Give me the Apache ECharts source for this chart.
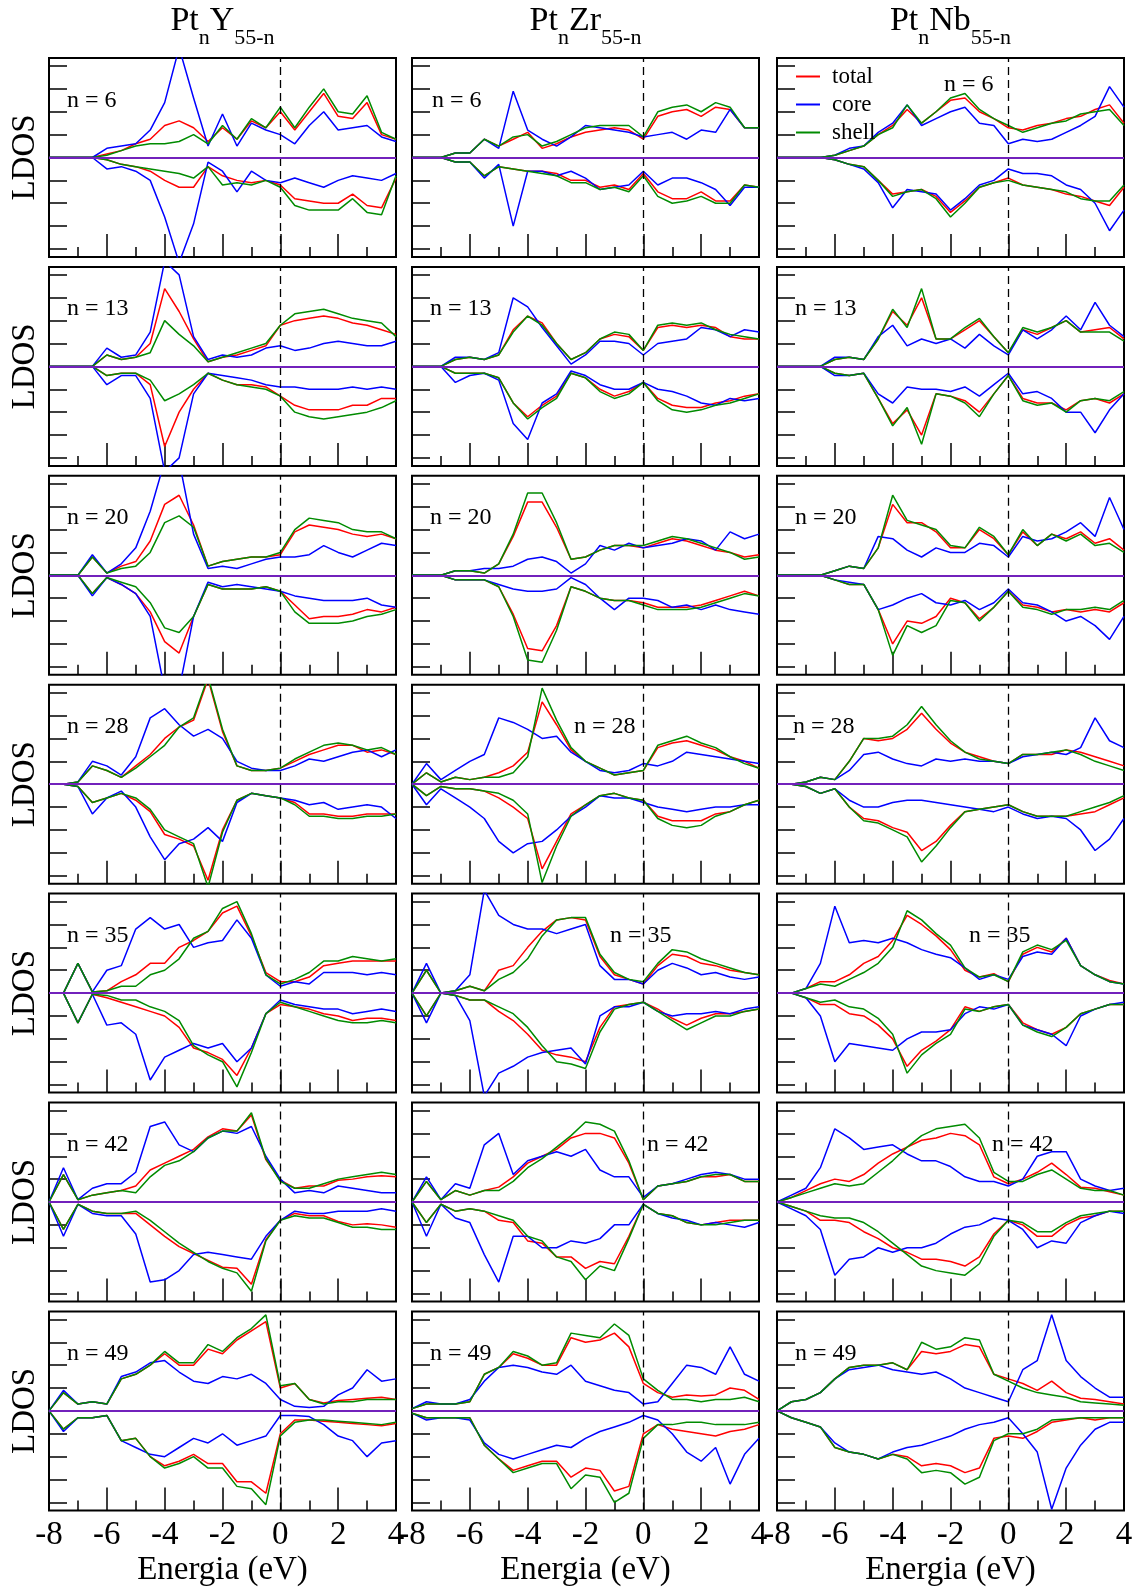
<!DOCTYPE html>
<html><head><meta charset="utf-8">
<script src="https://cdn.jsdelivr.net/npm/echarts@6/dist/echarts.min.js"></script>
<style>html,body{margin:0;padding:0;background:#fff}#c{width:1139px;height:1589px}</style>
</head><body><div id="c"></div><script>
// ---------- data ----------
const energy = [-8,-7.5,-7,-6.5,-6,-5.5,-5,-4.5,-4,-3.5,-3,-2.5,-2,-1.5,-1,-0.5,0,0.5,1,1.5,2,2.5,3,3.5,4];
const xTickLabels = ['-8','-6','-4','-2','0','2','4'];
const hosts = ['Y','Zr','Nb'];
const nValues = [6,13,20,28,35,42,49];
const seriesNames = ['total','core','shell'];

const Y6_totalUp = [0,0,0,0, 0.15,0.3,0.6,0.8, 1.4,1.6,1.3,0.7, 1.3,0.8,1.6,1.3, 2.0,1.2,2.0,2.8, 1.8,1.7,2.4,1.0, 0.8];
const Y6_coreUp  = [0,0,0,0, 0.4,0.5,0.6,1.2, 2.4,4.8,2.6,0.5, 1.9,0.5,1.5,1.2, 1.0,0.6,1.4,2.0, 1.2,1.3,1.4,0.9, 0.7];
const Y6_shellUp = [0,0,0,0, 0.1,0.3,0.5,0.6, 0.6,0.7,1.0,0.6, 1.4,0.8,1.7,1.3, 2.2,1.3,2.2,3.0, 2.0,1.9,2.7,1.1, 0.8];
const Y6_totalDn = [0,0,0,0, -0.1,-0.3,-0.4,-0.6, -1.0,-1.3,-1.3,-0.4, -0.8,-1.0,-1.1,-1.0, -1.2,-1.8,-1.9,-2.0, -2.0,-1.6,-2.1,-2.2, -0.9];
const Y6_coreDn  = [0,0,0,0, -0.5,-0.4,-0.6,-1.0, -2.6,-4.6,-2.9,-0.2, -0.6,-1.5,-0.6,-1.0, -1.1,-0.9,-1.1,-1.3, -1.0,-0.8,-0.9,-1.0, -0.7];
const Y6_shellDn = [0,0,0,0, -0.1,-0.3,-0.4,-0.5, -0.6,-0.7,-0.9,-0.4, -1.2,-1.1,-1.2,-1.0, -1.3,-2.1,-2.3,-2.3, -2.3,-1.8,-2.4,-2.5, -0.8];

const Zr6_totalUp = [0,0,0,0.2, 0.2,0.8,0.5,0.8, 1.1,0.4,0.6,0.9, 1.1,1.2,1.3,1.2, 0.8,1.8,2.0,2.1, 1.8,2.2,2.1,1.3, 1.3];
const Zr6_coreUp  = [0,0,0,0.2, 0.2,0.8,0.4,2.9, 1.2,0.8,0.5,0.9, 1.4,1.3,1.2,1.1, 0.9,1.0,1.1,0.8, 1.2,1.1,2.1,1.3, 1.3];
const Zr6_shellUp = [0,0,0,0.2, 0.2,0.8,0.5,0.9, 1.0,0.5,0.7,1.0, 1.3,1.4,1.4,1.4, 0.9,2.0,2.2,2.3, 2.0,2.4,2.2,1.3, 1.3];
const Zr6_totalDn = [0,0,0,-0.2, -0.2,-0.8,-0.4,-0.5, -0.6,-0.6,-0.7,-1.0, -1.0,-1.3,-1.2,-1.4, -0.7,-1.5,-1.8,-1.8, -1.5,-1.9,-1.9,-1.2, -1.3];
const Zr6_coreDn  = [0,0,0,-0.2, -0.2,-0.9,-0.3,-3.0, -0.6,-0.6,-0.8,-0.6, -0.9,-1.4,-1.3,-1.2, -0.6,-1.2,-0.9,-0.9, -1.1,-1.4,-2.1,-1.3, -1.3];
const Zr6_shellDn = [0,0,0,-0.2, -0.2,-0.8,-0.4,-0.5, -0.6,-0.7,-0.8,-1.1, -1.1,-1.4,-1.3,-1.5, -0.8,-1.7,-2.0,-1.9, -1.7,-2.0,-2.0,-1.2, -1.3];

const Nb6_totalUp = [0,0,0,0, 0.1,0.3,0.5,1.0, 1.4,2.1,1.5,2.0, 2.5,2.6,2.0,1.7, 1.3,1.2,1.4,1.5, 1.7,1.8,2.1,2.3, 1.5];
const Nb6_coreUp  = [0,0,0,0, 0.1,0.4,0.5,1.1, 1.5,2.3,1.4,1.7, 2.0,2.2,1.5,1.4, 0.6,0.8,0.7,0.8, 1.1,1.4,1.8,3.1, 2.2];
const Nb6_shellUp = [0,0,0,0, 0.1,0.3,0.5,1.0, 1.3,2.3,1.5,2.0, 2.6,2.8,2.1,1.7, 1.4,1.1,1.3,1.5, 1.6,1.9,2.0,2.1, 1.4];
const Nb6_totalDn = [0,0,0,0, -0.1,-0.3,-0.4,-1.0, -1.6,-1.5,-1.4,-1.7, -2.4,-1.9,-1.3,-1.1, -0.9,-1.2,-1.3,-1.4, -1.6,-1.7,-1.9,-2.1, -1.3];
const Nb6_coreDn  = [0,0,0,0, -0.1,-0.3,-0.5,-1.1, -2.2,-1.4,-1.5,-1.6, -2.3,-1.8,-1.2,-1.0, -0.5,-0.7,-0.7,-0.8, -1.2,-1.4,-2.0,-3.2, -2.3];
const Nb6_shellDn = [0,0,0,0, -0.1,-0.3,-0.4,-1.0, -1.7,-1.5,-1.4,-1.8, -2.6,-2.0,-1.3,-1.1, -1.0,-1.2,-1.3,-1.4, -1.5,-1.8,-1.9,-1.9, -1.2];

const Y13_totalUp = [0,0,0,0, 0.5,0.3,0.4,1.0, 3.4,2.4,1.2,0.2, 0.4,0.5,0.7,0.9, 1.8,2.0,2.1,2.2, 2.1,1.9,1.8,1.6, 1.4];
const Y13_coreUp  = [0,0,0,0, 0.8,0.4,0.5,1.5, 4.6,4.0,1.3,0.3, 0.5,0.4,0.5,0.8, 0.9,0.7,0.8,1.0, 1.1,1.0,0.9,0.9, 1.1];
const Y13_shellUp = [0,0,0,0, 0.5,0.3,0.4,0.6, 2.0,1.4,0.9,0.2, 0.4,0.6,0.8,1.0, 1.8,2.3,2.4,2.5, 2.3,2.1,2.0,1.9, 1.3];
const Y13_totalDn = [0,0,0,0, -0.4,-0.3,-0.3,-0.8, -3.5,-2.0,-1.0,-0.3, -0.6,-0.8,-0.8,-0.9, -1.3,-1.7,-1.9,-1.9, -1.9,-1.7,-1.7,-1.4, -1.4];
const Y13_coreDn  = [0,0,0,0, -0.8,-0.4,-0.4,-1.4, -4.6,-4.0,-1.2,-0.3, -0.4,-0.5,-0.6,-0.8, -0.9,-0.9,-1.0,-1.0, -1.0,-0.9,-1.0,-0.9, -1.0];
const Y13_shellDn = [0,0,0,0, -0.4,-0.3,-0.3,-0.6, -1.5,-1.2,-0.8,-0.3, -0.6,-0.8,-0.9,-1.0, -1.3,-2.0,-2.2,-2.3, -2.2,-2.1,-2.0,-1.8, -1.5];

const Zr13_totalUp = [0,0,0,0.3, 0.4,0.3,0.5,1.6, 2.2,1.9,1.0,0.3, 0.6,1.2,1.4,1.3, 0.7,1.7,1.8,1.7, 1.8,1.7,1.3,1.2, 1.2];
const Zr13_coreUp  = [0,0,0,0.4, 0.4,0.3,0.6,3.0, 2.6,1.7,0.9,0.1, 0.5,1.1,1.1,1.0, 0.5,1.0,1.1,1.2, 1.7,1.6,1.3,1.6, 1.5];
const Zr13_shellUp = [0,0,0,0.3, 0.4,0.3,0.5,1.5, 2.2,1.8,1.0,0.3, 0.6,1.2,1.5,1.4, 0.7,1.8,1.9,1.8, 1.9,1.6,1.4,1.3, 1.2];
const Zr13_totalDn = [0,0,0,-0.3, -0.3,-0.3,-0.5,-1.6, -2.2,-1.7,-1.3,-0.3, -0.5,-1.0,-1.3,-1.1, -0.7,-1.4,-1.7,-1.8, -1.8,-1.6,-1.5,-1.3, -1.2];
const Zr13_coreDn  = [0,0,0,-0.7, -0.4,-0.3,-0.6,-2.5, -3.2,-1.6,-1.2,-0.2, -0.4,-0.8,-1.0,-1.0, -0.7,-1.0,-1.1,-1.3, -1.6,-1.7,-1.4,-1.5, -1.4];
const Zr13_shellDn = [0,0,0,-0.3, -0.3,-0.3,-0.5,-1.6, -2.3,-1.8,-1.4,-0.3, -0.5,-1.1,-1.4,-1.2, -0.7,-1.5,-1.9,-2.0, -1.9,-1.7,-1.6,-1.4, -1.2];

const Nb13_totalUp = [0,0,0,0, 0.3,0.4,0.3,1.2, 2.4,1.8,3.0,1.2, 1.2,1.6,2.0,1.3, 0.6,1.6,1.4,1.7, 2.0,1.5,1.6,1.7, 1.2];
const Nb13_coreUp  = [0,0,0,0, 0.4,0.4,0.3,1.3, 1.8,0.9,1.2,1.0, 1.2,0.8,1.4,0.9, 0.5,1.6,1.2,1.6, 2.2,1.6,2.8,1.8, 1.3];
const Nb13_shellUp = [0,0,0,0, 0.3,0.4,0.3,1.2, 2.5,1.7,3.4,1.2, 1.2,1.7,2.1,1.3, 0.6,1.7,1.5,1.7, 2.0,1.5,1.5,1.5, 1.1];
const Nb13_totalDn = [0,0,0,0, -0.3,-0.4,-0.3,-1.4, -2.5,-1.9,-3.0,-1.2, -1.3,-1.5,-2.0,-1.2, -0.4,-1.4,-1.6,-1.6, -1.9,-1.5,-1.4,-1.6, -1.2];
const Nb13_coreDn  = [0,0,0,0, -0.4,-0.4,-0.3,-1.2, -1.6,-0.9,-1.0,-1.0, -1.1,-0.9,-1.3,-0.8, -0.3,-1.2,-1.1,-1.4, -2.0,-2.0,-2.9,-1.9, -1.2];
const Nb13_shellDn = [0,0,0,0, -0.3,-0.4,-0.3,-1.4, -2.6,-1.8,-3.4,-1.2, -1.3,-1.6,-2.2,-1.2, -0.4,-1.5,-1.7,-1.6, -2.0,-1.5,-1.4,-1.5, -1.1];

const Y20_totalUp = [0,0,0,0.8, 0.1,0.4,0.6,1.5, 3.1,3.5,2.2,0.4, 0.6,0.7,0.8,0.8, 0.9,1.9,2.2,2.1, 2.0,1.8,1.7,1.8, 1.6];
const Y20_coreUp  = [0,0,0,0.9, 0.1,0.5,1.2,2.8, 5.0,5.0,1.8,0.3, 0.4,0.3,0.5,0.7, 0.8,0.8,0.9,1.3, 1.0,0.8,1.1,1.4, 1.3];
const Y20_shellUp = [0,0,0,0.8, 0.1,0.3,0.4,1.0, 2.3,2.6,2.1,0.4, 0.6,0.7,0.8,0.8, 1.0,2.0,2.5,2.4, 2.3,2.0,1.9,1.9, 1.6];
const Y20_totalDn = [0,0,0,-0.8, -0.1,-0.4,-0.8,-1.6, -2.9,-3.4,-1.8,-0.4, -0.6,-0.6,-0.6,-0.5, -0.7,-1.3,-1.9,-1.8, -1.8,-1.7,-1.5,-1.6, -1.4];
const Y20_coreDn  = [0,0,0,-0.9, -0.1,-0.4,-0.8,-1.8, -5.0,-5.0,-1.8,-0.3, -0.5,-0.4,-0.5,-0.6, -0.7,-0.9,-1.0,-1.1, -1.1,-1.1,-1.0,-1.3, -1.4];
const Y20_shellDn = [0,0,0,-0.8, -0.1,-0.3,-0.5,-1.2, -2.3,-2.5,-1.8,-0.4, -0.6,-0.6,-0.6,-0.5, -0.7,-1.6,-2.1,-2.1, -2.1,-2.0,-1.8,-1.7, -1.5];

const Zr20_totalUp = [0,0,0,0.2, 0.2,0.1,0.5,1.7, 3.2,3.2,2.1,0.7, 0.8,1.1,1.3,1.3, 1.2,1.4,1.6,1.5, 1.3,1.1,1.0,0.8, 0.9];
const Zr20_coreUp  = [0,0,0,0.2, 0.2,0.3,0.3,0.4, 0.7,0.8,0.6,0.1, 0.5,1.3,1.1,1.4, 1.2,1.3,1.4,1.6, 1.5,1.1,1.9,1.6, 1.8];
const Zr20_shellUp = [0,0,0,0.2, 0.2,0.1,0.5,1.8, 3.6,3.6,2.3,0.7, 0.8,1.1,1.3,1.3, 1.3,1.5,1.7,1.6, 1.4,1.2,1.0,0.7, 0.8];
const Zr20_totalDn = [0,0,0,-0.2, -0.2,-0.2,-0.5,-1.7, -3.2,-3.3,-2.2,-0.5, -0.7,-1.0,-1.1,-1.1, -1.2,-1.4,-1.4,-1.4, -1.3,-1.1,-0.9,-0.7, -0.9];
const Zr20_coreDn  = [0,0,0,-0.2, -0.2,-0.2,-0.4,-0.6, -0.7,-0.7,-0.6,-0.1, -0.4,-1.0,-1.5,-1.0, -1.0,-1.1,-1.4,-1.3, -1.5,-1.3,-1.5,-1.6, -1.7];
const Zr20_shellDn = [0,0,0,-0.2, -0.2,-0.2,-0.5,-1.8, -3.7,-3.8,-2.4,-0.5, -0.7,-1.0,-1.1,-1.1, -1.3,-1.5,-1.5,-1.5, -1.4,-1.2,-1.0,-0.8, -0.9];

const Nb20_totalUp = [0,0,0,0, 0.2,0.4,0.3,1.2, 3.1,2.3,2.3,1.9, 1.2,1.2,2.0,1.6, 0.9,1.9,1.3,1.8, 1.6,1.9,1.4,1.6, 1.1];
const Nb20_coreUp  = [0,0,0,0, 0.2,0.4,0.3,1.7, 1.6,1.1,0.8,1.2, 1.0,1.0,1.4,1.3, 0.8,1.7,1.5,1.6, 1.9,2.3,1.7,3.4, 2.0];
const Nb20_shellUp = [0,0,0,0, 0.2,0.4,0.3,1.2, 3.5,2.4,2.2,2.0, 1.3,1.2,2.1,1.7, 0.9,2.0,1.3,1.8, 1.5,1.8,1.3,1.4, 1.0];
const Nb20_totalDn = [0,0,0,0, -0.2,-0.4,-0.4,-1.5, -3.0,-2.0,-2.1,-1.8, -1.0,-1.2,-1.9,-1.4, -0.7,-1.3,-1.4,-1.6, -1.5,-1.6,-1.5,-1.6, -1.2];
const Nb20_coreDn  = [0,0,0,0, -0.2,-0.3,-0.4,-1.5, -1.3,-1.0,-0.8,-1.2, -1.3,-1.1,-1.5,-1.2, -0.6,-1.2,-1.3,-1.6, -2.0,-1.8,-2.2,-2.8, -1.8];
const Nb20_shellDn = [0,0,0,0, -0.2,-0.4,-0.4,-1.5, -3.5,-2.2,-2.5,-2.2, -1.1,-1.2,-2.0,-1.4, -0.7,-1.4,-1.5,-1.7, -1.5,-1.5,-1.4,-1.5, -1.1];

const Y28_totalUp = [0,0,0.1,0.8, 0.6,0.3,0.8,1.3, 2.0,2.5,2.8,4.6, 2.3,0.8,0.6,0.6, 0.7,1.0,1.3,1.5, 1.7,1.7,1.4,1.5, 1.3];
const Y28_coreUp  = [0,0,0.1,1.0, 0.8,0.4,1.2,2.9, 3.3,2.6,2.1,2.4, 2.0,1.0,0.7,0.6, 0.6,0.8,1.1,1.0, 1.2,1.4,1.5,1.2, 1.5];
const Y28_shellUp = [0,0,0.1,0.8, 0.6,0.3,0.7,1.2, 1.7,2.5,2.9,4.7, 2.4,0.8,0.6,0.6, 0.7,1.1,1.4,1.7, 1.8,1.7,1.5,1.6, 1.3];
const Y28_totalDn = [0,0,-0.1,-0.8, -0.6,-0.4,-0.7,-1.2, -2.2,-2.4,-2.7,-4.2, -2.0,-0.7,-0.4,-0.5, -0.6,-0.8,-1.3,-1.3, -1.4,-1.4,-1.3,-1.3, -1.3];
const Y28_coreDn  = [0,0,-0.1,-1.3, -0.6,-0.3,-1.0,-2.3, -3.3,-2.6,-2.4,-1.9, -2.5,-0.8,-0.4,-0.5, -0.6,-0.7,-0.9,-0.8, -1.1,-1.0,-0.9,-1.0, -1.5];
const Y28_shellDn = [0,0,-0.1,-0.8, -0.6,-0.4,-0.6,-1.1, -2.0,-2.3,-2.6,-4.5, -2.1,-0.7,-0.4,-0.5, -0.6,-0.9,-1.4,-1.4, -1.5,-1.5,-1.4,-1.4, -1.3];

const Zr28_totalUp = [0,0.5,0.1,0.3, 0.2,0.3,0.5,0.8, 1.4,3.6,2.6,1.5, 1.0,0.7,0.4,0.5, 0.6,1.6,1.8,1.9, 1.7,1.5,1.2,1.0, 0.7];
const Zr28_coreUp  = [0,0.9,0.2,0.6, 1.0,1.3,2.9,2.7, 2.4,2.0,2.1,1.4, 1.0,0.6,0.5,0.6, 0.9,0.8,1.0,1.4, 1.3,1.2,1.1,1.0, 0.9];
const Zr28_shellUp = [0,0.5,0.1,0.3, 0.2,0.3,0.3,0.5, 1.2,4.2,2.8,1.6, 1.0,0.7,0.4,0.5, 0.6,1.7,1.9,2.1, 1.8,1.6,1.2,0.9, 0.7];
const Zr28_totalDn = [0,-0.5,-0.1,-0.2, -0.2,-0.3,-0.6,-1.0, -1.5,-3.7,-2.5,-1.3, -0.9,-0.5,-0.4,-0.6, -0.7,-1.4,-1.6,-1.6, -1.6,-1.3,-1.2,-0.9, -0.7];
const Zr28_coreDn  = [0,-0.9,-0.2,-0.6, -1.0,-1.5,-2.5,-3.0, -2.6,-2.5,-2.0,-1.4, -1.0,-0.5,-0.6,-0.6, -0.8,-1.0,-1.1,-1.2, -1.1,-1.0,-1.0,-0.9, -0.9];
const Zr28_shellDn = [0,-0.5,-0.1,-0.2, -0.2,-0.3,-0.4,-0.7, -1.3,-4.3,-2.7,-1.4, -0.9,-0.5,-0.4,-0.6, -0.7,-1.5,-1.8,-1.9, -1.8,-1.4,-1.2,-0.9, -0.7];

const Nb28_totalUp = [0,0,0.1,0.3, 0.2,1.0,2.0,1.9, 2.0,2.4,3.1,2.4, 1.8,1.4,1.2,1.0, 0.9,1.3,1.3,1.3, 1.5,1.4,1.2,1.0, 0.8];
const Nb28_coreUp  = [0,0,0.1,0.3, 0.2,0.6,1.3,1.4, 1.1,0.9,0.8,1.1, 1.0,1.1,1.0,1.0, 0.9,1.2,1.3,1.4, 1.3,1.6,2.9,1.9, 1.6];
const Nb28_shellUp = [0,0,0.1,0.3, 0.2,1.0,2.0,2.0, 2.1,2.6,3.4,2.6, 1.9,1.4,1.1,1.0, 0.9,1.3,1.3,1.4, 1.5,1.3,1.0,0.8, 0.6];
const Nb28_totalDn = [0,0,-0.1,-0.4, -0.2,-1.0,-1.5,-1.6, -1.9,-2.1,-2.9,-2.5, -1.8,-1.2,-1.1,-1.0, -0.9,-1.2,-1.4,-1.4, -1.4,-1.3,-1.2,-0.9, -0.6];
const Nb28_coreDn  = [0,0,-0.1,-0.4, -0.2,-0.7,-1.0,-1.0, -0.8,-0.7,-0.7,-0.8, -0.9,-1.0,-1.1,-1.2, -1.0,-1.3,-1.5,-1.4, -1.5,-2.0,-2.9,-2.4, -1.5];
const Nb28_shellDn = [0,0,-0.1,-0.4, -0.2,-1.0,-1.6,-1.7, -2.0,-2.3,-3.4,-2.7, -1.9,-1.2,-1.1,-1.0, -0.9,-1.2,-1.4,-1.4, -1.4,-1.2,-1.0,-0.8, -0.5];

const Y35_totalUp = [0,0,1.3,0.05, 0.1,0.5,0.8,1.3, 1.3,2.0,2.3,2.7, 3.5,3.8,2.5,0.9, 0.5,0.5,0.7,1.2, 1.3,1.4,1.4,1.4, 1.4];
const Y35_coreUp  = [0,0,1.3,0.05, 1.0,1.2,2.8,3.3, 2.8,3.0,2.0,2.2, 2.3,3.2,2.4,0.8, 0.3,0.5,0.4,0.9, 0.9,0.9,0.8,0.9, 0.8];
const Y35_shellUp = [0,0,1.3,0.05, 0.1,0.3,0.3,0.8, 1.0,1.5,2.4,2.7, 3.7,4.0,2.6,0.8, 0.4,0.6,0.9,1.4, 1.4,1.6,1.5,1.4, 1.5];
const Y35_totalDn = [0,0,-1.3,-0.05, -0.2,-0.4,-0.6,-0.8, -1.0,-1.5,-2.4,-2.6, -2.9,-3.6,-2.4,-0.9, -0.5,-0.6,-0.7,-0.9, -1.0,-1.2,-1.1,-1.1, -1.2];
const Y35_coreDn  = [0,0,-1.3,-0.05, -1.4,-1.3,-1.8,-3.8, -2.8,-2.5,-2.2,-2.4, -2.2,-3.0,-2.4,-0.9, -0.3,-0.5,-0.6,-0.7, -0.7,-0.9,-0.8,-0.7, -0.8];
const Y35_shellDn = [0,0,-1.3,-0.05, -0.1,-0.3,-0.3,-0.6, -0.8,-1.2,-2.3,-2.7, -3.0,-4.1,-2.6,-0.9, -0.4,-0.6,-0.8,-1.0, -1.2,-1.3,-1.3,-1.2, -1.3];

const Zr35_totalUp = [0,1.0,0,0.1, 0.3,0.1,1.0,1.2, 2.0,2.7,3.2,3.3, 3.2,1.6,0.8,0.6, 0.4,1.2,1.7,1.6, 1.3,1.2,1.0,0.9, 0.8];
const Zr35_coreUp  = [0,1.3,0,0.1, 0.8,4.5,3.4,3.0, 2.8,2.8,2.6,2.8, 3.0,1.2,0.6,0.6, 0.4,1.0,1.3,1.1, 0.8,0.9,0.7,0.6, 0.7];
const Zr35_shellUp = [0,1.0,0,0.1, 0.3,0.1,0.6,0.9, 1.5,2.5,3.2,3.3, 3.3,1.7,0.9,0.6, 0.5,1.3,1.9,1.8, 1.5,1.3,1.1,0.9, 0.8];
const Zr35_totalDn = [0,-1.0,0,-0.1, -0.3,-0.3,-0.8,-1.2, -1.8,-2.5,-2.7,-2.8, -3.0,-1.5,-0.6,-0.5, -0.4,-0.7,-1.1,-1.4, -1.1,-0.9,-0.9,-0.8, -0.7];
const Zr35_coreDn  = [0,-1.3,0,-0.1, -1.2,-4.5,-3.5,-3.2, -2.8,-2.6,-2.5,-2.4, -3.1,-1.0,-0.6,-0.6, -0.4,-0.8,-1.0,-0.9, -0.9,-0.8,-0.9,-0.7, -0.6];
const Zr35_shellDn = [0,-1.0,0,-0.1, -0.3,-0.3,-0.6,-0.9, -1.5,-2.3,-3.0,-3.1, -3.3,-1.7,-0.7,-0.5, -0.4,-0.8,-1.2,-1.6, -1.3,-1.0,-1.0,-0.8, -0.7];

const Nb35_totalUp = [0,0,0.2,0.5, 0.5,0.8,1.3,1.6, 2.3,3.4,3.0,2.5, 1.9,1.0,0.7,0.85, 0.5,1.7,2.0,1.8, 2.4,1.2,0.8,0.55, 0.4];
const Nb35_coreUp  = [0,0,0.2,1.3, 3.8,2.2,2.3,2.2, 2.4,2.2,1.9,1.7, 1.55,1.1,0.6,0.8, 0.6,1.6,1.8,1.7, 2.4,1.2,0.8,0.5, 0.4];
const Nb35_shellUp = [0,0,0.2,0.4, 0.3,0.6,0.9,1.3, 2.0,3.6,3.2,2.6, 2.1,1.1,0.7,0.8, 0.5,1.8,2.1,1.9, 2.3,1.2,0.8,0.5, 0.4];
const Nb35_totalDn = [0,0,-0.2,-0.5, -0.5,-0.9,-1.0,-1.4, -2.0,-3.2,-2.5,-2.1, -1.6,-0.6,-0.8,-0.6, -0.5,-1.3,-1.6,-1.8, -1.5,-0.9,-0.7,-0.5, -0.5];
const Nb35_coreDn  = [0,0,-0.2,-1.0, -3.0,-2.2,-2.3,-2.4, -2.5,-2.0,-1.7,-1.7, -1.6,-0.9,-0.6,-0.7, -0.5,-1.4,-1.6,-1.8, -2.3,-1.0,-0.7,-0.5, -0.4];
const Nb35_shellDn = [0,0,-0.2,-0.4, -0.3,-0.6,-0.7,-1.1, -1.8,-3.5,-2.7,-2.2, -1.8,-0.7,-0.8,-0.6, -0.5,-1.4,-1.7,-1.9, -1.5,-0.9,-0.7,-0.5, -0.5];

const Y42_totalUp = [0,1.2,0.1,0.3, 0.4,0.5,0.7,1.4, 1.7,2.0,2.3,2.85, 3.2,3.1,3.8,1.85, 0.95,0.6,0.7,0.7, 0.95,1.0,1.1,1.15, 1.1];
const Y42_coreUp  = [0,1.5,0.1,0.6, 0.8,0.8,1.3,3.3, 3.5,2.5,2.2,2.8, 3.1,3.0,3.3,2.0, 1.0,0.4,0.5,0.4, 0.7,0.6,0.5,0.4, 0.4];
const Y42_shellUp = [0,1.2,0.1,0.3, 0.4,0.5,0.4,1.1, 1.6,1.8,2.2,2.8, 3.1,3.1,3.9,1.9, 0.9,0.6,0.6,0.8, 1.0,1.1,1.2,1.3, 1.2];
const Y42_totalDn = [0,-1.2,-0.1,-0.4, -0.5,-0.5,-0.5,-1.0, -1.5,-1.95,-2.25,-2.55, -2.85,-2.9,-3.6,-1.65, -0.8,-0.5,-0.6,-0.6, -0.85,-1.0,-0.95,-1.0, -1.1];
const Y42_coreDn  = [0,-1.5,-0.1,-0.5, -0.6,-0.6,-1.4,-3.5, -3.4,-3.0,-2.3,-2.2, -2.3,-2.4,-2.5,-1.5, -0.8,-0.4,-0.5,-0.5, -0.4,-0.4,-0.4,-0.3, -0.4];
const Y42_shellDn = [0,-1.2,-0.1,-0.4, -0.5,-0.5,-0.4,-0.8, -1.3,-1.8,-2.2,-2.6, -2.9,-3.1,-3.9,-1.7, -0.8,-0.6,-0.7,-0.7, -0.9,-1.1,-1.1,-1.2, -1.2];

const Zr42_totalUp = [0,0.9,0.1,0.5, 0.3,0.5,0.65,1.1, 1.7,2.0,2.3,2.8, 3.0,3.0,2.8,1.7, 0.1,0.7,0.8,0.9, 1.1,1.1,1.2,0.9, 0.9];
const Zr42_coreUp  = [0,1.1,0.1,0.8, 0.6,2.5,3.0,1.2, 1.8,2.0,2.2,2.0, 2.3,1.4,1.1,1.1, 0.2,0.7,0.8,1.0, 1.2,1.3,1.2,1.0, 1.0];
const Zr42_shellUp = [0,0.9,0.1,0.5, 0.3,0.5,0.5,0.9, 1.5,1.9,2.4,2.9, 3.5,3.4,3.1,1.8, 0.1,0.7,0.8,0.9, 1.1,1.2,1.2,0.9, 0.9];
const Zr42_totalDn = [0,-0.9,-0.1,-0.4, -0.3,-0.4,-0.8,-0.9, -1.7,-1.8,-2.4,-2.4, -2.9,-2.6,-2.7,-1.5, -0.1,-0.5,-0.6,-0.9, -1.0,-0.9,-0.8,-0.8, -0.8];
const Zr42_coreDn  = [0,-1.5,-0.1,-0.7, -0.9,-2.3,-3.5,-1.5, -1.5,-2.0,-2.0,-1.7, -1.8,-1.6,-1.0,-1.0, -0.1,-0.5,-0.7,-0.8, -1.0,-0.9,-1.0,-1.1, -0.9];
const Zr42_shellDn = [0,-0.9,-0.1,-0.4, -0.3,-0.4,-0.6,-0.8, -1.5,-1.7,-2.4,-2.6, -3.4,-2.8,-3.0,-1.6, -0.1,-0.5,-0.6,-0.9, -1.0,-1.0,-0.9,-0.8, -0.8];

const Nb42_totalUp = [0,0.2,0.5,0.8, 1.0,0.9,1.2,1.7, 2.1,2.4,2.7,2.8, 3.0,2.9,2.5,1.1, 0.8,1.0,1.3,1.7, 1.2,0.65,0.6,0.45, 0.3];
const Nb42_coreUp  = [0,0.3,0.6,1.5, 3.2,2.8,2.3,2.4, 2.5,2.1,1.8,1.8, 1.55,1.1,0.9,0.9, 0.7,1.0,2.0,2.2, 2.2,1.0,0.7,0.5, 0.6];
const Nb42_shellUp = [0,0.2,0.4,0.6, 0.8,0.7,0.8,1.3, 1.8,2.4,2.9,3.2, 3.3,3.4,2.8,1.3, 0.9,0.9,1.2,1.4, 1.0,0.6,0.5,0.5, 0.3];
const Nb42_totalDn = [0,-0.2,-0.4,-0.8, -0.8,-0.9,-1.3,-1.6, -2.0,-2.2,-2.5,-2.5, -2.6,-2.8,-2.4,-1.4, -0.8,-1.0,-1.5,-1.5, -1.0,-0.7,-0.6,-0.4, -0.4];
const Nb42_coreDn  = [0,-0.3,-0.6,-1.2, -3.2,-2.5,-2.4,-2.0, -2.2,-2.0,-2.0,-1.8, -1.4,-1.1,-1.0,-0.7, -0.8,-1.2,-2.0,-1.7, -1.8,-0.9,-0.6,-0.4, -0.5];
const Nb42_shellDn = [0,-0.2,-0.4,-0.6, -0.7,-0.7,-0.9,-1.3, -1.8,-2.3,-2.8,-3.0, -3.1,-3.2,-2.7,-1.5, -0.8,-0.9,-1.3,-1.3, -0.9,-0.6,-0.5,-0.4, -0.4];

const Y49_totalUp = [0,0.8,0.3,0.4, 0.3,1.4,1.6,2.0, 2.5,2.0,2.0,2.7, 2.5,3.1,3.5,3.9, 1.0,1.2,0.5,0.35, 0.45,0.5,0.55,0.6, 0.5];
const Y49_coreUp  = [0,0.9,0.3,0.4, 0.3,1.5,1.7,2.1, 2.2,1.7,1.3,1.2, 1.5,1.4,1.6,1.2, 0.5,0.2,0.15,0.2, 0.7,1.0,1.8,1.3, 1.4];
const Y49_shellUp = [0,0.8,0.3,0.4, 0.3,1.4,1.6,2.0, 2.6,2.1,2.1,2.9, 2.6,3.2,3.6,4.2, 1.1,1.2,0.5,0.3, 0.4,0.4,0.5,0.5, 0.5];
const Y49_totalDn = [0,-0.8,-0.3,-0.3, -0.2,-1.3,-1.2,-2.0, -2.4,-2.2,-1.9,-2.3, -2.3,-3.1,-3.1,-3.6, -1.0,-0.4,-0.4,-0.45, -0.5,-0.55,-0.6,-0.65, -0.55];
const Y49_coreDn  = [0,-0.9,-0.3,-0.3, -0.2,-1.3,-1.6,-1.9, -2.0,-1.6,-1.2,-1.4, -1.0,-1.5,-1.3,-1.1, -0.2,-0.2,-0.25,-0.6, -1.1,-1.3,-2.0,-1.4, -1.3];
const Y49_shellDn = [0,-0.8,-0.3,-0.3, -0.2,-1.3,-1.2,-2.0, -2.5,-2.3,-2.0,-2.5, -2.5,-3.3,-3.4,-4.1, -1.1,-0.5,-0.4,-0.4, -0.45,-0.5,-0.55,-0.6, -0.5];

const Zr49_totalUp = [0.1,0.3,0.3,0.3, 0.4,1.6,1.9,2.5, 2.3,2.0,2.0,3.2, 3.0,3.1,3.4,2.8, 1.2,0.8,0.6,0.7, 0.65,0.7,1.0,0.9, 0.5];
const Zr49_coreUp  = [0.1,0.4,0.3,0.3, 0.5,1.3,1.9,2.0, 1.9,1.7,1.6,2.0, 1.3,1.1,0.9,0.8, 0.3,0.4,1.2,2.0, 1.9,1.6,2.8,1.6, 1.3];
const Zr49_shellUp = [0.1,0.3,0.3,0.3, 0.4,1.6,1.9,2.6, 2.4,2.0,2.1,3.4, 3.3,3.2,3.8,3.3, 1.4,0.9,0.5,0.5, 0.4,0.5,0.5,0.6, 0.4];
const Zr49_totalDn = [-0.1,-0.3,-0.3,-0.3, -0.3,-1.5,-2.1,-2.6, -2.4,-2.2,-2.2,-2.9, -2.5,-2.6,-3.5,-3.3, -1.0,-0.6,-0.8,-0.9, -1.0,-1.1,-0.9,-0.8, -0.6];
const Zr49_coreDn  = [-0.1,-0.4,-0.3,-0.3, -0.4,-1.4,-1.9,-2.1, -1.9,-1.7,-1.5,-1.6, -1.2,-0.9,-0.7,-0.5, -0.2,-0.4,-1.0,-1.8, -2.2,-1.6,-3.2,-1.9, -1.2];
const Zr49_shellDn = [-0.1,-0.3,-0.3,-0.3, -0.3,-1.5,-2.1,-2.7, -2.5,-2.3,-2.3,-3.4, -2.8,-2.9,-4.0,-3.6, -1.2,-0.6,-0.6,-0.5, -0.5,-0.6,-0.6,-0.6, -0.5];

const Nb49_totalUp = [0,0.4,0.5,0.8, 1.4,1.9,2.0,2.0, 2.1,1.8,2.6,2.5, 2.6,2.9,2.8,1.6, 1.4,1.2,0.9,1.3, 0.8,0.55,0.5,0.4, 0.3];
const Nb49_coreUp  = [0,0.4,0.5,0.8, 1.4,1.8,1.9,2.0, 1.8,1.7,1.6,1.7, 1.4,1.0,0.8,0.6, 0.4,1.8,2.2,4.2, 2.2,1.5,1.0,0.6, 0.6];
const Nb49_shellUp = [0,0.4,0.5,0.8, 1.4,1.9,2.0,2.0, 2.1,1.8,3.0,2.7, 2.8,3.2,3.1,1.6, 1.3,1.0,0.8,0.7, 0.6,0.4,0.35,0.3, 0.25];
const Nb49_totalDn = [0,-0.3,-0.5,-0.7, -1.6,-1.8,-1.9,-2.1, -1.9,-2.0,-2.4,-2.3, -2.4,-2.7,-2.5,-1.2, -1.1,-1.2,-0.9,-0.5, -0.4,-0.3,-0.4,-0.3, -0.3];
const Nb49_coreDn  = [0,-0.3,-0.5,-0.7, -1.4,-1.8,-1.9,-2.1, -1.8,-1.6,-1.5,-1.3, -1.1,-0.8,-0.6,-0.5, -0.3,-1.0,-1.8,-4.3, -2.5,-1.5,-0.8,-0.5, -0.5];
const Nb49_shellDn = [0,-0.3,-0.5,-0.7, -1.6,-1.8,-1.9,-2.1, -1.9,-2.1,-2.7,-2.6, -2.7,-3.2,-2.9,-1.3, -1.0,-1.0,-0.8,-0.4, -0.35,-0.3,-0.3,-0.3, -0.3];

// panel lookup: [totalUp, totalDn, coreUp, coreDn, shellUp, shellDn]
const panelData = {
  Y6:[Y6_totalUp,Y6_totalDn,Y6_coreUp,Y6_coreDn,Y6_shellUp,Y6_shellDn],
  Zr6:[Zr6_totalUp,Zr6_totalDn,Zr6_coreUp,Zr6_coreDn,Zr6_shellUp,Zr6_shellDn],
  Nb6:[Nb6_totalUp,Nb6_totalDn,Nb6_coreUp,Nb6_coreDn,Nb6_shellUp,Nb6_shellDn],
  Y13:[Y13_totalUp,Y13_totalDn,Y13_coreUp,Y13_coreDn,Y13_shellUp,Y13_shellDn],
  Zr13:[Zr13_totalUp,Zr13_totalDn,Zr13_coreUp,Zr13_coreDn,Zr13_shellUp,Zr13_shellDn],
  Nb13:[Nb13_totalUp,Nb13_totalDn,Nb13_coreUp,Nb13_coreDn,Nb13_shellUp,Nb13_shellDn],
  Y20:[Y20_totalUp,Y20_totalDn,Y20_coreUp,Y20_coreDn,Y20_shellUp,Y20_shellDn],
  Zr20:[Zr20_totalUp,Zr20_totalDn,Zr20_coreUp,Zr20_coreDn,Zr20_shellUp,Zr20_shellDn],
  Nb20:[Nb20_totalUp,Nb20_totalDn,Nb20_coreUp,Nb20_coreDn,Nb20_shellUp,Nb20_shellDn],
  Y28:[Y28_totalUp,Y28_totalDn,Y28_coreUp,Y28_coreDn,Y28_shellUp,Y28_shellDn],
  Zr28:[Zr28_totalUp,Zr28_totalDn,Zr28_coreUp,Zr28_coreDn,Zr28_shellUp,Zr28_shellDn],
  Nb28:[Nb28_totalUp,Nb28_totalDn,Nb28_coreUp,Nb28_coreDn,Nb28_shellUp,Nb28_shellDn],
  Y35:[Y35_totalUp,Y35_totalDn,Y35_coreUp,Y35_coreDn,Y35_shellUp,Y35_shellDn],
  Zr35:[Zr35_totalUp,Zr35_totalDn,Zr35_coreUp,Zr35_coreDn,Zr35_shellUp,Zr35_shellDn],
  Nb35:[Nb35_totalUp,Nb35_totalDn,Nb35_coreUp,Nb35_coreDn,Nb35_shellUp,Nb35_shellDn],
  Y42:[Y42_totalUp,Y42_totalDn,Y42_coreUp,Y42_coreDn,Y42_shellUp,Y42_shellDn],
  Zr42:[Zr42_totalUp,Zr42_totalDn,Zr42_coreUp,Zr42_coreDn,Zr42_shellUp,Zr42_shellDn],
  Nb42:[Nb42_totalUp,Nb42_totalDn,Nb42_coreUp,Nb42_coreDn,Nb42_shellUp,Nb42_shellDn],
  Y49:[Y49_totalUp,Y49_totalDn,Y49_coreUp,Y49_coreDn,Y49_shellUp,Y49_shellDn],
  Zr49:[Zr49_totalUp,Zr49_totalDn,Zr49_coreUp,Zr49_coreDn,Zr49_shellUp,Zr49_shellDn],
  Nb49:[Nb49_totalUp,Nb49_totalDn,Nb49_coreUp,Nb49_coreDn,Nb49_shellUp,Nb49_shellDn]
};

// ---------- layout / style ----------
const FONT = '"Liberation Serif","Times New Roman",serif';
const COLORS = {total:'#ff0000', core:'#0000ff', shell:'#008b00'};
const PURPLE = '#7221bc';
const colLeft = [49, 412, 777];
const W = 347, H = 199, TOP0 = 58, ROWSTEP = 208.9;
// n label positions [dx from panel left, dy from panel top]
const nLabelPos = {
  '0,0':[18,43],'0,1':[20,43],'0,2':[167,27],
  '3,1':[162,42],'3,2':[16,42],
  '4,1':[198,42],'4,2':[192,42],
  '5,1':[235,42],'5,2':[215,42]
};

const grids=[], xAxes=[], yAxes=[], series=[], graphics=[];
nValues.forEach((n,r)=>{
  hosts.forEach((h,c)=>{
    const i = r*3+c;
    const top = TOP0 + ROWSTEP*r;
    const left = colLeft[c];
    const last = r === nValues.length-1;
    grids.push({left:left, top:top, width:W, height:H, show:true, borderColor:'#000', borderWidth:2, backgroundColor:'transparent'});
    xAxes.push({
      gridIndex:i, type:'value', min:-8, max:4, interval:2, position:'bottom',
      axisLine:{show:false, onZero:false},
      axisTick:{show:true, inside:true, length:23, lineStyle:{color:'#000', width:1.5}},
      minorTick:{show:true, splitNumber:2, length:10, lineStyle:{color:'#000', width:1.5}},
      splitLine:{show:false}, minorSplitLine:{show:false},
      axisLabel:{show:last, margin:8, fontSize:33, fontFamily:FONT, color:'#000',
        showMinLabel:true, showMaxLabel:true,
        formatter:v=>xTickLabels[Math.round((v+8)/2)]}
    });
    yAxes.push({
      gridIndex:i, type:'value', min:-4.35, max:4.35, position:'left',
      axisLine:{show:false, onZero:false},
      axisTick:{show:true, inside:true, length:18, customValues:[-4,-3,-2,-1,1,2,3,4], lineStyle:{color:'#000', width:1.5}},
      axisLabel:{show:false}, splitLine:{show:false}
    });
    const arrs = panelData[h+n];
    const order = ['total','total','core','core','shell','shell'];
    arrs.forEach((arr,k)=>{
      const name = order[k];
      const s = {
        type:'line', name:name, xAxisIndex:i, yAxisIndex:i,
        data: energy.map((e,j)=>[e, arr[j]]),
        symbol:'none', showSymbol:false, smooth:false,
        lineStyle:{color:COLORS[name], width:1.5}, itemStyle:{color:COLORS[name]},
        animation:false, silent:true, clip:true
      };
      if (k === arrs.length-1) {
        s.markLine = {
          silent:true, symbol:['none','none'], label:{show:false}, animation:false,
          data:[
            {xAxis:0, lineStyle:{color:'#000', type:[8,5], width:1.3}},
            {yAxis:0, lineStyle:{color:PURPLE, type:'solid', width:2}}
          ]
        };
      }
      series.push(s);
    });
    // n label
    const p = nLabelPos[r+','+c] || [18,42];
    graphics.push({type:'text', x:left+p[0], y:top+p[1], z:100,
      style:{text:'n = '+n, fontSize:24, fontFamily:FONT, fill:'#000', align:'left', verticalAlign:'middle'}});
    if (c === 0) {
      graphics.push({type:'text', x:25.5, y:top+H/2, rotation:Math.PI/2, z:100,
        style:{text:'LDOS', fontSize:33, fontFamily:FONT, fill:'#000', align:'center', verticalAlign:'middle'}});
    }
    if (r === 0) {
      graphics.push({type:'text', x:left+W/2, y:4, z:100,
        style:{text:'{a|Pt}{b|n}{a|'+h+'}{b|55-n}', align:'center', verticalAlign:'top', fill:'#000',
          rich:{
            a:{fontSize:34, fontFamily:FONT, lineHeight:36, verticalAlign:'top', fill:'#000'},
            b:{fontSize:22, fontFamily:FONT, lineHeight:22, padding:[23,0,0,0], verticalAlign:'top', fill:'#000'}
          }}});
    }
    if (last) {
      graphics.push({type:'text', x:left+W/2, y:1570, z:100,
        style:{text:'Energia (eV)', fontSize:33, fontFamily:FONT, fill:'#000', align:'center', verticalAlign:'middle'}});
    }
  });
});

const chart = echarts.init(document.getElementById('c'), null, {renderer:'canvas'});
chart.setOption({
  animation:false,
  backgroundColor:'#fff',
  grid:grids, xAxis:xAxes, yAxis:yAxes, series:series,
  legend:{show:true, orient:'vertical', left:791, top:60, itemWidth:24, itemHeight:2, itemGap:5,
    icon:'rect', selectedMode:false, data:seriesNames,
    textStyle:{fontFamily:FONT, fontSize:23, color:'#000', lineHeight:22, padding:[0,0,0,7]}},
  graphic:graphics
});
</script></body></html>
